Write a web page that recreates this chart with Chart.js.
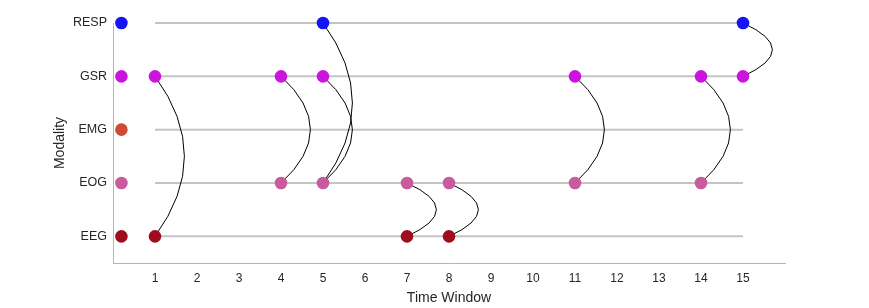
<!DOCTYPE html>
<html>
<head>
<meta charset="utf-8">
<script src="https://cdn.jsdelivr.net/npm/chart.js@4/dist/chart.umd.min.js"></script>
<style>
  html, body { margin: 0; padding: 0; background: #fff; }
  canvas { display: block; }
</style>
</head>
<body>
<canvas id="chart" width="869" height="308"></canvas>
<script>
// modalities, bottom to top
const modalities = ['EEG', 'EOG', 'EMG', 'GSR', 'RESP'];
const modalityColors = ['#a00c1e', '#c85a9e', '#d04a35', '#cc14e0', '#1414f5'];

const timeTicks = [1, 2, 3, 4, 5, 6, 7, 8, 9, 10, 11, 12, 13, 14, 15];
const windowStart = 1;
const windowEnd = 15;
const summaryX = 0.2; // the lone dot left of each row

// time windows where each modality has an event
const eegTimes = [1, 7, 8];
const eogTimes = [4, 5, 7, 8, 11, 14];
const emgTimes = [];
const gsrTimes = [1, 4, 5, 11, 14, 15];
const respTimes = [5, 15];
const eventTimes = [eegTimes, eogTimes, emgTimes, gsrTimes, respTimes];

// links between modalities inside the same time window
const linkTimes = [1, 4, 5, 5, 7, 8, 11, 14, 15];
const linkFrom = ['GSR', 'GSR', 'GSR', 'RESP', 'EOG', 'EOG', 'GSR', 'GSR', 'RESP'];
const linkTo = ['EEG', 'EOG', 'EOG', 'EOG', 'EEG', 'EEG', 'EOG', 'EOG', 'GSR'];

const bulge = 0.7; // how far right each link swings, in time units

const rowY = name => modalities.indexOf(name) + 1;

const datasets = [];

// dots (first = drawn on top)
modalities.forEach((m, i) => {
    const pts = [{ x: summaryX, y: i + 1 }].concat(eventTimes[i].map(t => ({ x: t, y: i + 1 })));
    datasets.push({
        label: m,
        data: pts,
        showLine: false,
        pointRadius: 6.3,
        pointBackgroundColor: modalityColors[i],
        pointBorderWidth: 0,
        clip: false
    });
});

// gray row lines (drawn underneath)
modalities.forEach((m, i) => {
    datasets.push({
        label: m + ' row',
        data: [{ x: windowStart, y: i + 1 }, { x: windowEnd, y: i + 1 }],
        showLine: true,
        borderColor: '#c4c4c4',
        borderWidth: 2,
        pointRadius: 0,
        clip: false
    });
});

// links are parabolic arcs, drawn just before the dots go on
const linkArcs = {
    id: 'linkArcs',
    beforeDatasetDraw(chart, args) {
        if (args.index !== modalities.length - 1) return;
        const { ctx, scales: { x, y } } = chart;
        ctx.save();
        ctx.strokeStyle = '#000';
        ctx.lineWidth = 1;
        linkTimes.forEach((t, k) => {
            const a = rowY(linkFrom[k]);
            const b = rowY(linkTo[k]);
            const x0 = x.getPixelForValue(t);
            const xc = x.getPixelForValue(t + 2 * bulge);
            ctx.beginPath();
            ctx.moveTo(x0, y.getPixelForValue(a));
            ctx.quadraticCurveTo(xc, y.getPixelForValue((a + b) / 2), x0, y.getPixelForValue(b));
            ctx.stroke();
        });
        ctx.restore();
    }
};

const font = 'Liberation Sans, Arial, Helvetica, sans-serif';
const textColor = '#262626';

new Chart(document.getElementById('chart'), {
    type: 'scatter',
    data: { datasets: datasets },
    plugins: [linkArcs],
    options: {
        responsive: false,
        animation: false,
        events: [],
        layout: { padding: { left: 0, right: 84, top: 23, bottom: 0 } },
        plugins: {
            legend: { display: false },
            tooltip: { enabled: false }
        },
        scales: {
            x: {
                type: 'linear',
                min: 0,
                max: 16,
                afterBuildTicks: s => { s.ticks = timeTicks.map(v => ({ value: v })); },
                afterFit: s => { s.height = 45; },
                grid: { display: false, drawTicks: false },
                border: { display: true, color: '#b4b4b4', width: 1 },
                ticks: {
                    padding: 8,
                    maxRotation: 0,
                    autoSkip: false,
                    color: textColor,
                    font: { family: font, size: 12 }
                },
                title: {
                    display: true,
                    text: 'Time Window',
                    color: textColor,
                    font: { family: font, size: 14 },
                    padding: { top: 0, bottom: 1 }
                }
            },
            y: {
                type: 'linear',
                min: 0.5,
                max: 5,
                afterBuildTicks: s => { s.ticks = modalities.map((m, i) => ({ value: i + 1 })); },
                afterFit: s => { s.width = 113; },
                grid: { display: false, drawTicks: false },
                border: { display: true, color: '#b4b4b4', width: 1 },
                ticks: {
                    padding: 6,
                    autoSkip: false,
                    color: textColor,
                    font: { family: font, size: 12.5 },
                    callback: v => modalities[v - 1]
                },
                title: {
                    display: true,
                    text: 'Modality',
                    color: textColor,
                    font: { family: font, size: 14 },
                    padding: { top: 52, bottom: 0 }
                }
            }
        }
    }
});
</script>
</body>
</html>
